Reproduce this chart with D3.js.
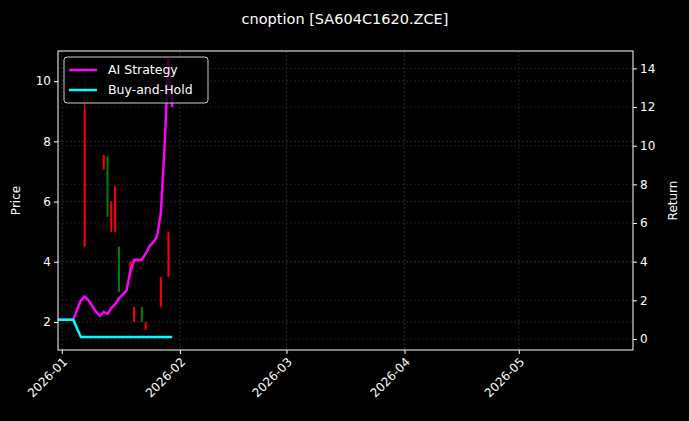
<!DOCTYPE html><html><head><script src="https://d3js.org/d3.v7.min.js"></script>
<style>body{margin:0;background:#000}text{font-family:"DejaVu Sans";fill:#fff}</style></head><body><svg id="c" width="689" height="421"></svg><script>
const candleDates=["2026-01-07","2026-01-12","2026-01-13","2026-01-14","2026-01-15","2026-01-16","2026-01-19","2026-01-20","2026-01-22","2026-01-23","2026-01-27","2026-01-29"];
const candleOpen=[9.07,7.55,5.5,6.0,6.5,3.0,4.0,2.5,2.0,2.0,3.5,5.0];
const candleClose=[4.5,7.07,7.5,5.0,5.0,4.5,3.5,2.0,2.5,1.75,2.5,3.5];
const candleHigh=[10.4,7.55,7.5,6.0,6.5,4.5,4.0,2.5,2.5,2.0,3.5,5.0];
const candleLow=[4.5,7.07,5.5,5.0,5.0,3.0,3.5,2.0,2.0,1.75,2.5,3.5];
const lineDates=["2025-12-31","2026-01-04","2026-01-06","2026-01-07","2026-01-08","2026-01-09","2026-01-10","2026-01-11","2026-01-12","2026-01-13","2026-01-14","2026-01-15","2026-01-16","2026-01-17","2026-01-18","2026-01-19","2026-01-20","2026-01-21","2026-01-22","2026-01-23","2026-01-24","2026-01-25","2026-01-26","2026-01-27","2026-01-28","2026-01-29","2026-01-30"];
const aiReturn=[1,1,2.0,2.2,2.0,1.7,1.4,1.2,1.4,1.3,1.6,1.8,2.1,2.3,2.5,3.5,4.1,4.1,4.1,4.4,4.8,5.0,5.3,6.5,10.0,14.5,12.0];
const bhReturn=[1,1,0.1,0.1,0.1,0.1,0.1,0.1,0.1,0.1,0.1,0.1,0.1,0.1,0.1,0.1,0.1,0.1,0.1,0.1,0.1,0.1,0.1,0.1,0.1,0.1,0.1];
const xTicks=["2026-01","2026-02","2026-03","2026-04","2026-05"];
const priceTicks=[2,4,6,8,10], retTicks=[0,2,4,6,8,10,12,14];
const P=d3.timeParse("%Y-%m-%d"), M=d3.timeParse("%Y-%m");
const L=58,R=633,T=51,B=350;
const svg=d3.select("#c");
const x=d3.scaleTime().domain([P("2025-12-31"),P("2026-05-31")]).range([L,R]);
const y=d3.scaleLinear().domain([1.07,11.0]).range([B,T]);
const y2=d3.scaleLinear().domain([-0.57,14.9]).range([B,T]);
const g=svg.append("g");
xTicks.forEach(t=>g.append("line").attr("x1",x(M(t))).attr("x2",x(M(t))).attr("y1",T).attr("y2",B).attr("stroke","#444").attr("stroke-width",0.6).attr("stroke-dasharray","2,2"));
priceTicks.forEach(t=>g.append("line").attr("x1",L).attr("x2",R).attr("y1",y(t)).attr("y2",y(t)).attr("stroke","#444").attr("stroke-width",0.6).attr("stroke-dasharray","2,2"));
retTicks.forEach(t=>g.append("line").attr("x1",L).attr("x2",R).attr("y1",y2(t)).attr("y2",y2(t)).attr("stroke","#333").attr("stroke-width",0.6).attr("stroke-dasharray","2,2"));
candleDates.forEach((d,i)=>{const c=candleClose[i]>=candleOpen[i]?"#008000":"#ff0000";const cx=x(P(d));
g.append("line").attr("x1",cx).attr("x2",cx).attr("y1",y(candleHigh[i])).attr("y2",y(candleLow[i])).attr("stroke",c).attr("stroke-width",1);
g.append("rect").attr("x",cx-1).attr("width",2).attr("y",y(Math.max(candleOpen[i],candleClose[i]))).attr("height",Math.max(1,Math.abs(y(candleOpen[i])-y(candleClose[i])))).attr("fill",c);});
const ln=v=>d3.line().x((d,i)=>x(P(lineDates[i]))).y(d=>y2(d))(v);
g.append("path").attr("d",ln(aiReturn)).attr("fill","none").attr("stroke","#ff00ff").attr("stroke-width",2.5);
g.append("path").attr("d",ln(bhReturn)).attr("fill","none").attr("stroke","#00ffff").attr("stroke-width",2.5);
g.append("rect").attr("x",L).attr("y",T).attr("width",R-L).attr("height",B-T).attr("fill","none").attr("stroke","#fff").attr("stroke-width",1);
const xa=svg.append("g").attr("transform",`translate(0,${B})`).call(d3.axisBottom(x).tickValues(xTicks.map(M)).tickFormat(d3.timeFormat("%Y-%m")).tickSize(4).tickSizeOuter(0));
const ya=svg.append("g").attr("transform",`translate(${L},0)`).call(d3.axisLeft(y).tickValues(priceTicks).tickSize(4).tickSizeOuter(0));
const yb=svg.append("g").attr("transform",`translate(${R},0)`).call(d3.axisRight(y2).tickValues(retTicks).tickSize(4).tickSizeOuter(0));
[xa,ya,yb].forEach(a=>{a.select(".domain").remove();a.selectAll("line").attr("stroke","#fff");a.selectAll("text").style("font-size","12px").attr("fill","#fff");});
xa.selectAll("text").attr("transform","rotate(-45)").attr("text-anchor","end").attr("dx","-0.4em").attr("dy","0.5em");
svg.append("text").attr("x",345).attr("y",24).attr("text-anchor","middle").style("font-size","14.5px").text("cnoption [SA604C1620.ZCE]");
svg.append("text").attr("transform",`translate(20,${(T+B)/2}) rotate(-90)`).attr("text-anchor","middle").style("font-size","12px").text("Price");
svg.append("text").attr("transform",`translate(677,${(T+B)/2}) rotate(-90)`).attr("text-anchor","middle").style("font-size","12px").text("Return");
const lg=svg.append("g");
lg.append("rect").attr("x",64).attr("y",57).attr("width",144).attr("height",46).attr("rx",3).attr("fill","#000").attr("fill-opacity",0.8).attr("stroke","#ccc");
[["AI Strategy","#ff00ff"],["Buy-and-Hold","#00ffff"]].forEach((e,i)=>{const yy=70+i*20;
lg.append("line").attr("x1",69).attr("x2",97).attr("y1",yy).attr("y2",yy).attr("stroke",e[1]).attr("stroke-width",2.5);
lg.append("text").attr("x",108).attr("y",yy+4).style("font-size","12.5px").text(e[0]);});
</script></body></html>
